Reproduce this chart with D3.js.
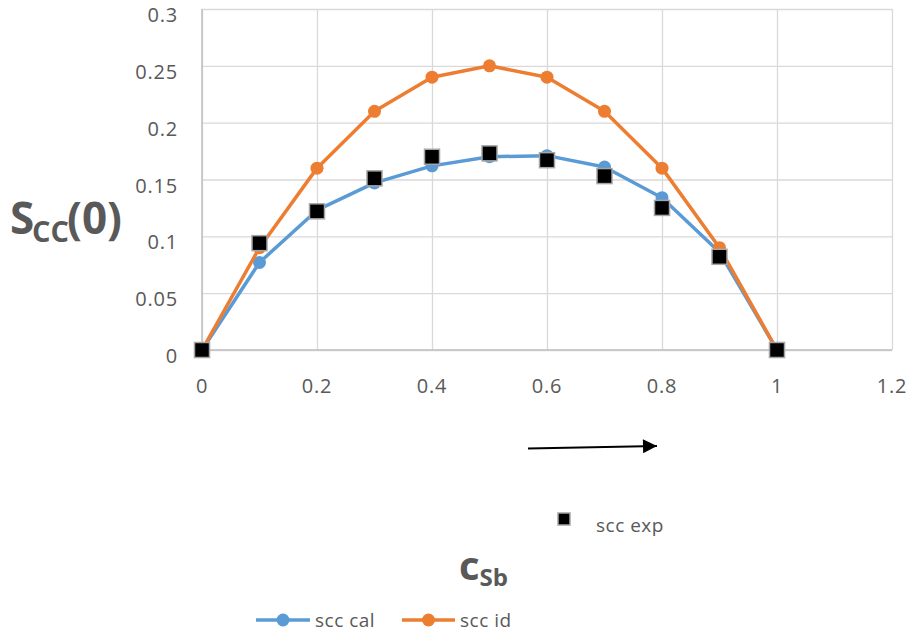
<!DOCTYPE html>
<html>
<head>
<meta charset="utf-8">
<script src="https://cdnjs.cloudflare.com/ajax/libs/d3/7.8.5/d3.min.js"></script>
<style>
  html, body { margin: 0; padding: 0; background: #fff; }
  svg { display: block; }
  text { font-family: "Open Sans", Lato, sans-serif; fill: #595959; }
</style>
</head>
<body>
<svg id="chart" width="908" height="636"></svg>
<script>
// ---- data ----
const xValues   = [0, 0.1, 0.2, 0.3, 0.4, 0.5, 0.6, 0.7, 0.8, 0.9, 1.0];
const sccCal    = [0, 0.077, 0.123, 0.147, 0.162, 0.170, 0.171, 0.161, 0.134, 0.086, 0];
const sccId     = [0, 0.09, 0.16, 0.21, 0.24, 0.25, 0.24, 0.21, 0.16, 0.09, 0];
const sccExp    = [0, 0.094, 0.122, 0.151, 0.170, 0.173, 0.167, 0.153, 0.125, 0.082, 0];
const xTicks    = [0, 0.2, 0.4, 0.6, 0.8, 1.0, 1.2];
const yTicks    = [0, 0.05, 0.1, 0.15, 0.2, 0.25, 0.3];
const seriesNames = ["scc cal", "scc id", "scc exp"];

const colors = { cal: "#5B9BD5", id: "#ED7D31" };

const svg = d3.select("#chart");
const x = d3.scaleLinear().domain([0, 1.2]).range([202, 892]);
const y = d3.scaleLinear().domain([0, 0.3]).range([350, 9]);

// gridlines
const gx = svg.append("g").attr("transform", `translate(0,${y(0)})`)
  .call(d3.axisBottom(x).tickValues(xTicks).tickSize(-(y(0) - y(0.3))).tickFormat(""));
gx.select(".domain").remove();
gx.selectAll("line").attr("stroke", "#D9D9D9").attr("stroke-width", 1.3);

const gy = svg.append("g").attr("transform", `translate(${x(0)},0)`)
  .call(d3.axisLeft(y).tickValues(yTicks).tickSize(-(x(1.2) - x(0))).tickFormat(""));
gy.select(".domain").remove();
gy.selectAll("line").attr("stroke", "#D9D9D9").attr("stroke-width", 1.3);

// axis lines
svg.append("line").attr("x1", x(0)).attr("x2", x(0)).attr("y1", y(0.3)).attr("y2", y(0))
  .attr("stroke", "#BFBFBF").attr("stroke-width", 1.5);
svg.append("line").attr("x1", x(0)).attr("x2", x(1.2)).attr("y1", y(0)).attr("y2", y(0))
  .attr("stroke", "#BFBFBF").attr("stroke-width", 1.5);

// tick labels
const fmt = d => String(d);
svg.append("g").selectAll("text").data(yTicks).join("text")
  .attr("x", 178).attr("y", d => y(d) + 6).attr("dy", "0.35em")
  .attr("text-anchor", "end").attr("font-size", 20).attr("letter-spacing", 0.8).text(fmt);
svg.append("g").selectAll("text").data(xTicks).join("text")
  .attr("x", d => x(d)).attr("y", 385.5).attr("dy", "0.35em")
  .attr("text-anchor", "middle").attr("font-size", 20).attr("letter-spacing", 0.8).text(fmt);

// lines
const line = d3.line().x(d => x(d[0])).y(d => y(d[1]));
function drawSeries(vals, color) {
  const pts = xValues.map((v, i) => [v, vals[i]]);
  svg.append("path").datum(pts).attr("d", line)
    .attr("fill", "none").attr("stroke", color).attr("stroke-width", 3.5)
    .attr("stroke-linejoin", "round").attr("stroke-linecap", "round");
  svg.append("g").selectAll("circle").data(pts).join("circle")
    .attr("cx", d => x(d[0])).attr("cy", d => y(d[1])).attr("r", 6.5)
    .attr("fill", color);
}
drawSeries(sccCal, colors.cal);
drawSeries(sccId, colors.id);

// experimental squares
const sq = 15;
svg.append("g").selectAll("rect").data(xValues.map((v, i) => [v, sccExp[i]])).join("rect")
  .attr("x", d => x(d[0]) - sq / 2).attr("y", d => y(d[1]) - sq / 2)
  .attr("width", sq).attr("height", sq)
  .attr("fill", "#000").attr("stroke", "#A5A5A5").attr("stroke-width", 1.5);

// arrow annotation
svg.append("defs").append("marker").attr("id", "ah")
  .attr("viewBox", "0 0 10 10").attr("refX", 10).attr("refY", 5)
  .attr("markerWidth", 8).attr("markerHeight", 7).attr("markerUnits", "strokeWidth")
  .attr("orient", "auto")
  .append("path").attr("d", "M0,0 L10,5 L0,10 Z").attr("fill", "#000");
svg.append("line").attr("x1", 528).attr("y1", 448.5).attr("x2", 657).attr("y2", 446)
  .attr("stroke", "#000").attr("stroke-width", 2).attr("marker-end", "url(#ah)");

// legend: scc exp
svg.append("rect").attr("x", 558).attr("y", 513).attr("width", 12).attr("height", 12)
  .attr("fill", "#000").attr("stroke", "#A5A5A5").attr("stroke-width", 1.5);
svg.append("text").attr("x", 596).attr("y", 532).attr("font-size", 19)
  .attr("letter-spacing", 0.5).text(seriesNames[2]);

// bottom legend
const leg = [
  { name: seriesNames[0], color: colors.cal, x0: 256, x1: 310, tx: 315 },
  { name: seriesNames[1], color: colors.id,  x0: 402, x1: 455, tx: 460 }
];
leg.forEach(l => {
  svg.append("line").attr("x1", l.x0).attr("x2", l.x1).attr("y1", 620).attr("y2", 620)
    .attr("stroke", l.color).attr("stroke-width", 3.5);
  svg.append("circle").attr("cx", (l.x0 + l.x1) / 2).attr("cy", 620).attr("r", 6.5).attr("fill", l.color);
  svg.append("text").attr("x", l.tx).attr("y", 620).attr("dy", "0.35em")
    .attr("font-size", 19).attr("letter-spacing", 0.5).text(l.name);
});

// y axis title: S_CC(0)
svg.append("text").attr("x", 10).attr("y", 234).attr("font-size", 44).attr("font-weight", "bold").text("S");
svg.append("text").attr("x", 32).attr("y", 241.5).attr("font-size", 29).attr("font-weight", "bold").text("CC");
svg.append("text").attr("x", 67).attr("y", 234).attr("font-size", 44).attr("font-weight", "bold").text("(0)");

// x axis title: c_Sb
const xt = svg.append("text").attr("x", 459).attr("y", 580).attr("font-size", 40).attr("font-weight", "bold");
xt.append("tspan").text("c");
xt.append("tspan").attr("font-size", 24).attr("dy", 6).text("Sb");
</script>
</body>
</html>
